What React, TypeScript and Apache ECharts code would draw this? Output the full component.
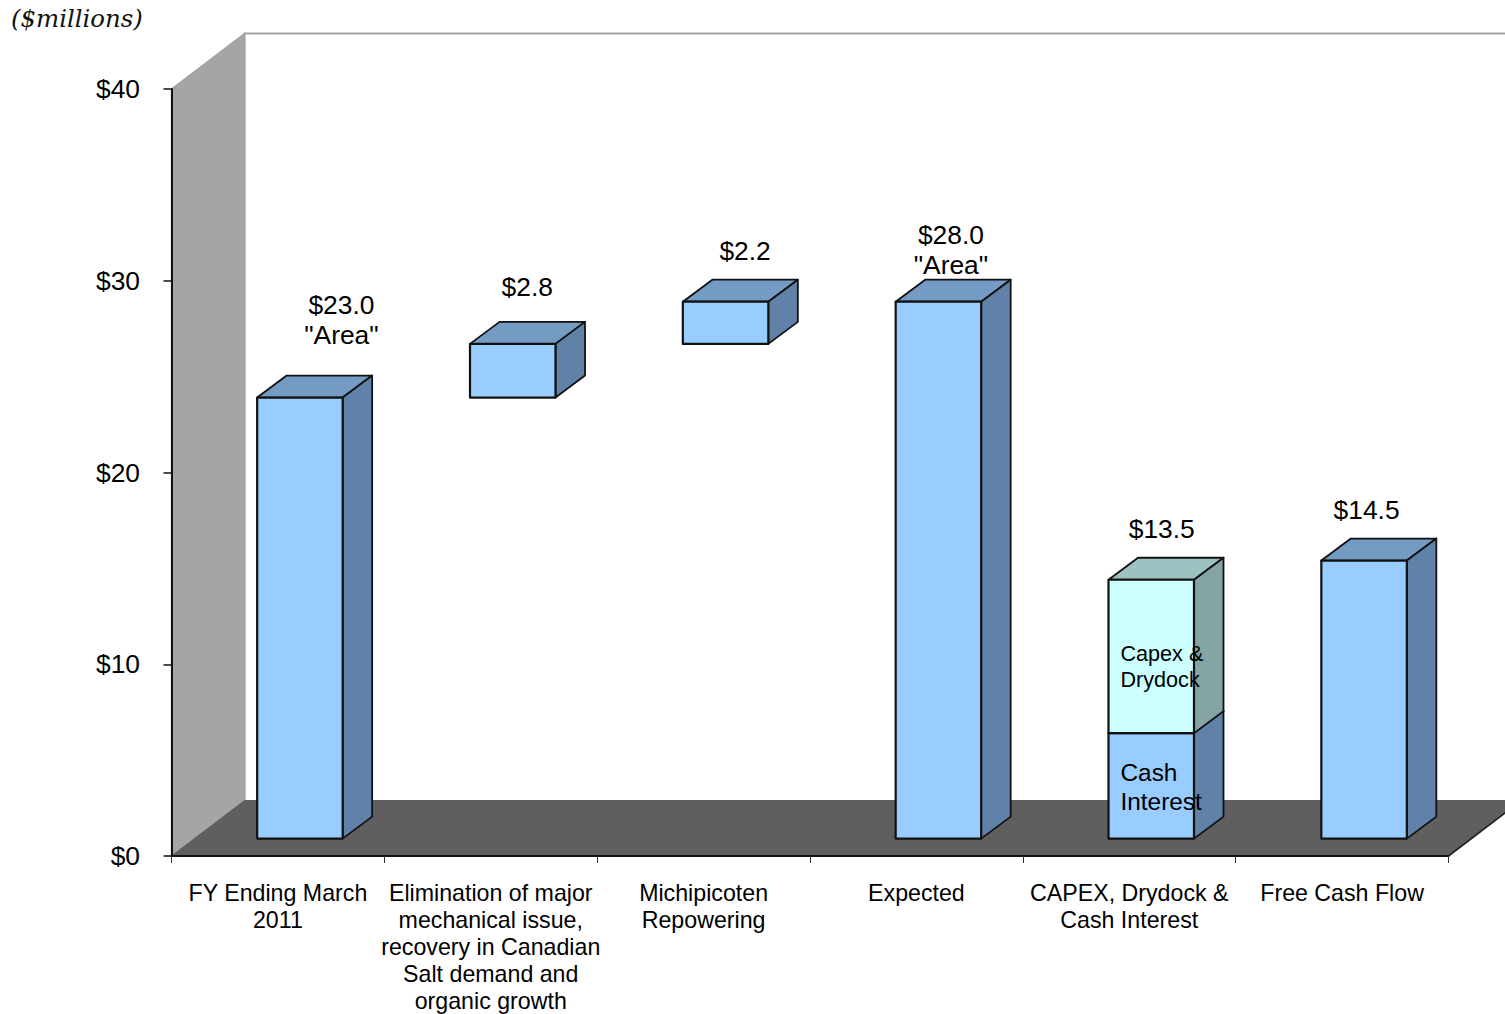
import React, { useEffect, useRef } from "react";
import * as echarts from "echarts";

const categories = [
  "FY Ending March\n2011",
  "Elimination of major\nmechanical issue,\nrecovery in Canadian\nSalt demand and\norganic growth",
  "Michipicoten\nRepowering",
  "Expected",
  "CAPEX, Drydock &\nCash Interest",
  "Free Cash Flow",
];
const yTicks = [0, 10, 20, 30, 40];

// One entry per box; stacked and floating boxes carry their own base value.
const boxCategory = [0, 1, 2, 3, 4, 4, 5];
const boxBase = [0, 23, 25.8, 0, 0, 5.5, 0];
const boxValue = [23, 2.8, 2.2, 28, 5.5, 8, 14.5];
const boxTone = ["blue", "blue", "blue", "blue", "blue", "cyan", "blue"];

const valueLabelCategory = [0, 1, 2, 3, 4, 5];
const valueLabelTop = [23, 25.8, 28, 28, 13.5, 14.5];
const valueLabelText = ['$23.0\n"Area"', "$2.8", "$2.2", '$28.0\n"Area"', "$13.5", "$14.5"];
const valueLabelNudge = [
  [41.5, -78],
  [14.5, -57],
  [19.5, -51],
  [12.5, -52],
  [10.5, -51],
  [2.5, -51],
];

const innerLabelText = ["Cash\nInterest", "Capex &\nDrydock"];
const innerLabelCategory = [4, 4];
const innerLabelValue = [2.7, 9.0];
const innerLabelSize = [24.4, 21.6];
const innerLabelLeading = [29, 26];

const tones: Record<string, { front: string; side: string; top: string }> = {
  blue: { front: "#99CCFF", side: "#6082A8", top: "#739BC4" },
  cyan: { front: "#CCFFFF", side: "#85A5A5", top: "#9CC2C2" },
};

const SANS = '"Liberation Sans", Arial, sans-serif';
const WALL_DX = 73;
const WALL_DY = -55.5;
const BAR_WIDTH = 85.5;
const BAR_SHIFT_X = 22;
const BAR_SHIFT_Y = -17.4;
const BOX_DX = 29.5;
const BOX_DY = -22;
const EDGE = "#111111";

const poly = (points: number[][], fill: string, stroke: string, lineWidth = 1.8) => ({
  type: "polygon",
  shape: { points },
  style: { fill, stroke, lineWidth, lineJoin: "round" },
});

// Side wall, back wall edges and floor of the chart box, projected from the axis corners.
const renderChamber = (_p: any, api: any) => {
  const band = api.size([1, 0])[0];
  const [cx, y0] = api.coord([0, 0]);
  const [, y40] = api.coord([0, 40]);
  const x0 = cx - band / 2;
  const x1 = x0 + band * categories.length;
  const d = (x: number, y: number) => [x + WALL_DX, y + WALL_DY];
  const wallStroke = "#A3A3A3";
  return {
    type: "group",
    children: [
      poly([[x0, y40], d(x0, y40), d(x0, y0), [x0, y0]], "#A5A5A5", wallStroke, 1.4),
      {
        type: "polyline",
        shape: { points: [d(x0, y0), d(x0, y40), d(x1, y40)] },
        style: { fill: "none", stroke: wallStroke, lineWidth: 2 },
      },
      poly([[x0, y0], d(x0, y0), d(x1, y0), [x1, y0]], "#5F5F5F", "#5F5F5F", 1),
      {
        type: "line",
        shape: { x1, y1: y0, x2: x1 + WALL_DX, y2: y0 + WALL_DY },
        style: { stroke: "#222222", lineWidth: 1.6 },
      },
    ],
  };
};

const renderBox = (_p: any, api: any) => {
  const cat = api.value(0);
  const tone = tones[boxTone[api.value(3)]];
  const [cx, yBase] = api.coord([cat, api.value(1)]);
  const [, yTop] = api.coord([cat, api.value(2)]);
  const l = cx + BAR_SHIFT_X - BAR_WIDTH / 2;
  const r = l + BAR_WIDTH;
  const b = yBase + BAR_SHIFT_Y;
  const t = yTop + BAR_SHIFT_Y;
  return {
    type: "group",
    children: [
      poly([[l, t], [l + BOX_DX, t + BOX_DY], [r + BOX_DX, t + BOX_DY], [r, t]], tone.top, EDGE),
      poly([[r, t], [r + BOX_DX, t + BOX_DY], [r + BOX_DX, b + BOX_DY], [r, b]], tone.side, EDGE),
      poly([[l, t], [r, t], [r, b], [l, b]], tone.front, EDGE, 2.2),
    ],
  };
};

const renderValueLabel = (_p: any, api: any) => {
  const i = api.value(2);
  const [cx, y] = api.coord([api.value(0), api.value(1)]);
  const [nx, ny] = valueLabelNudge[i];
  return {
    type: "text",
    style: {
      text: valueLabelText[i],
      x: cx + BAR_SHIFT_X + nx,
      y: y + BAR_SHIFT_Y + ny,
      font: `26.4px ${SANS}`,
      lineHeight: 30,
      fill: "#000000",
      align: "center",
      verticalAlign: "middle",
    },
  };
};

const renderInnerLabel = (_p: any, api: any) => {
  const i = api.value(2);
  const [cx, y] = api.coord([api.value(0), api.value(1)]);
  return {
    type: "text",
    style: {
      text: innerLabelText[i],
      x: cx + BAR_SHIFT_X - BAR_WIDTH / 2 + 12,
      y: y + BAR_SHIFT_Y,
      font: `${innerLabelSize[i]}px ${SANS}`,
      lineHeight: innerLabelLeading[i],
      fill: "#000000",
      align: "left",
      verticalAlign: "middle",
    },
  };
};

export default function App() {
  const ref = useRef<HTMLDivElement>(null);

  useEffect(() => {
    const chart = echarts.init(ref.current!, undefined, { renderer: "svg" });
    chart.setOption({
      animation: false,
      backgroundColor: "#FFFFFF",
      grid: { left: 171.5, right: 56.5, top: 89, bottom: 158, containLabel: false },
      graphic: [
        {
          type: "text",
          left: 11,
          top: 6,
          style: {
            text: "($millions)",
            font: 'italic 24.4px "DejaVu Serif", serif',
            fill: "#111111",
          },
        },
      ],
      xAxis: {
        type: "category",
        data: categories,
        boundaryGap: true,
        z: 5,
        axisLine: { lineStyle: { color: "#111111", width: 2 } },
        axisTick: { show: true, alignWithLabel: false, length: 7, lineStyle: { color: "#333333", width: 1 } },
        axisLabel: {
          interval: 0,
          margin: 23,
          fontFamily: SANS,
          fontSize: 23.2,
          lineHeight: 27,
          color: "#000000",
        },
      },
      yAxis: {
        type: "value",
        min: yTicks[0],
        max: yTicks[yTicks.length - 1],
        interval: 10,
        z: 5,
        splitLine: { show: false },
        axisLine: { show: true, lineStyle: { color: "#111111", width: 2 } },
        axisTick: { show: true, length: 8, lineStyle: { color: "#111111", width: 1.5 } },
        axisLabel: {
          margin: 31.5,
          formatter: (v: number) => `$${v}`,
          fontFamily: SANS,
          fontSize: 26.4,
          color: "#000000",
        },
      },
      series: [
        {
          type: "custom",
          z: 1,
          silent: true,
          clip: false,
          renderItem: renderChamber,
          data: [[0, 0]],
          encode: { x: 0, y: 1 },
        },
        {
          type: "custom",
          z: 2,
          silent: true,
          clip: false,
          renderItem: renderBox,
          data: boxValue.map((v, i) => [boxCategory[i], boxBase[i], boxBase[i] + v, i]),
          encode: { x: 0, y: 2 },
        },
        {
          type: "custom",
          z: 3,
          silent: true,
          clip: false,
          renderItem: renderValueLabel,
          data: valueLabelTop.map((v, i) => [valueLabelCategory[i], v, i]),
          encode: { x: 0, y: 1 },
        },
        {
          type: "custom",
          z: 3,
          silent: true,
          clip: false,
          renderItem: renderInnerLabel,
          data: innerLabelValue.map((v, i) => [innerLabelCategory[i], v, i]),
          encode: { x: 0, y: 1 },
        },
      ],
    });
    return () => chart.dispose();
  }, []);

  return (
    <div
      ref={ref}
      style={{ position: "fixed", left: 0, top: 0, width: 1505, height: 1014, overflow: "hidden" }}
    />
  );
}
